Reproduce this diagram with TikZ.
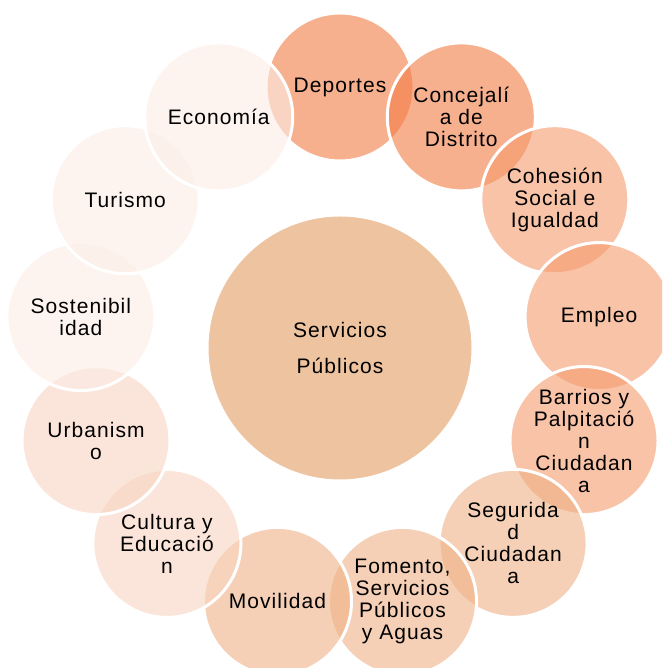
\documentclass[tikz,border=0pt]{standalone}
\usepackage{fontspec}
\setmainfont{Liberation Sans}[LetterSpace=5]
\usetikzlibrary{shapes}
\definecolor{core}{RGB}{238,196,160}
\definecolor{tonoA}{RGB}{242,123,67}
\definecolor{tonoB}{RGB}{245,155,110}
\definecolor{tonoC}{RGB}{238,177,133}
\definecolor{tonoD}{RGB}{248,212,193}
\definecolor{tonoE}{RGB}{252,237,230}

\begin{document}
\begin{tikzpicture}[x = 1pt, y = 1pt,
	area/.style = {draw = white,
				   line width = 3pt,
				   shape = circle,
				   minimum size = 148pt,
				   inner sep = 0pt,
				   fill opacity = 0.6,
				   text opacity = 1.0,
				   align = center,
				   font = \fontsize{21}{22}\selectfont}]

	\useasboundingbox (0,0) rectangle (662,668);
	\clip (0,0) rectangle (662,668);

	\draw (340,320) node[draw = white,
						 line width = 3pt,
						 shape = circle,
						 fill = core,
						 minimum size = 266pt,
						 inner sep = 0pt,
						 align = center,
						 font = \fontsize{21}{22}\selectfont](srv){Servicios\\[14pt]Públicos};

	\draw (340,581) node[area, fill = tonoA](dep){Deportes};
	\draw (461.3,551.1) node[area, fill = tonoA](conc){Concejalí\\a de\\Distrito};
	\draw (554.8,468.3) node[area, fill = tonoB](coh){Cohesión\\Social e\\Igualdad};
	\draw (599.1,351.4) node[area, fill = tonoB](emp){Empleo};
	\draw (584.0,227.4) node[area, fill = tonoB](bar){Barrios y\\Palpitació\\n\\Ciudadan\\a};
	\draw (513.1,124.6) node[area, fill = tonoC](seg){Segurida\\d\\Ciudadan\\a};
	\draw (402.5,66.6) node[area, fill = tonoC](fom){Fomento,\\Servicios\\Públicos\\y Aguas};
	\draw (277.5,66.6) node[area, fill = tonoC](mov){Movilidad};
	\draw (166.9,124.6) node[area, fill = tonoD](cul){Cultura y\\Educació\\n};
	\draw (96.0,227.4) node[area, fill = tonoD](urb){Urbanism\\o};
	\draw (80.9,351.4) node[area, fill = tonoE](sos){Sostenibil\\idad};
	\draw (125.2,468.3) node[area, fill = tonoE](tur){Turismo};
	\draw (218.7,551.1) node[area, fill = tonoE](eco){Economía};

\end{tikzpicture}
\end{document}
